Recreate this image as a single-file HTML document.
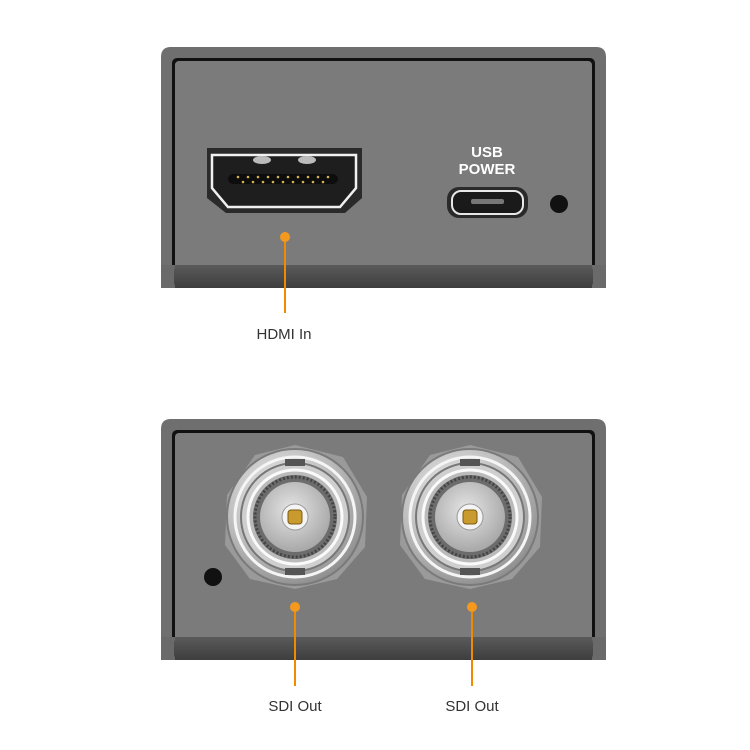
<!DOCTYPE html>
<html><head><style>
html,body{margin:0;padding:0;background:#fff;}
svg{display:block;}
text{font-family:"Liberation Sans",sans-serif;}
</style></head><body>
<svg width="750" height="750" viewBox="0 0 750 750" xmlns="http://www.w3.org/2000/svg">
<defs>
<linearGradient id="lip" x1="0" y1="0" x2="0" y2="1"><stop offset="0" stop-color="#5a5a5a"/><stop offset="1" stop-color="#3e3e3e"/></linearGradient>
<radialGradient id="metal" cx="0.4" cy="0.35" r="0.7"><stop offset="0" stop-color="#f2f2f2"/><stop offset="0.6" stop-color="#bdbdbd"/><stop offset="1" stop-color="#8a8a8a"/></radialGradient>
<radialGradient id="inner" cx="0.45" cy="0.4" r="0.6"><stop offset="0" stop-color="#e6e6e6"/><stop offset="1" stop-color="#a8a8a8"/></radialGradient>
<g id="box">
  <path d="M161,288 V10 Q161,0 171,0 H596 Q606,0 606,10 V241 H161 Z" fill="#6f6f6f" transform="translate(0,0)"/>
  <rect x="172" y="11" width="423" height="220" rx="5" fill="#111"/>
  <rect x="175" y="14" width="417" height="217" rx="4" fill="#7b7b7b"/>
  <rect x="163" y="218" width="441" height="23" fill="url(#lip)"/>
  <rect x="161" y="218" width="14" height="23" fill="#6a6a6a"/>
  <rect x="592" y="218" width="14" height="23" fill="#6a6a6a"/>
  <rect x="174" y="218" width="419" height="23" rx="6" fill="url(#lip)"/>
</g>
<g id="bnc">
  <polygon points="-68,-22 -40,-62 0,-72 48,-60 72,-20 70,30 42,62 0,72 -45,62 -70,28" fill="#9a9a9a"/>
  <circle r="68" fill="url(#metal)" stroke="#7a7a7a" stroke-width="2"/>
  <circle r="60" fill="none" stroke="#f5f5f5" stroke-width="3"/>
  <circle r="54" fill="#cfcfcf" stroke="#777" stroke-width="2"/>
  <circle r="47" fill="#bbb" stroke="#fafafa" stroke-width="3"/>
  <circle r="42" fill="#6c6c6c"/>
  <circle r="40" fill="none" stroke="#444" stroke-width="3" stroke-dasharray="2 2"/>
  <circle r="35" fill="url(#inner)"/>
  <circle r="13" fill="#f4f4f4" stroke="#999" stroke-width="1"/>
  <rect x="-7" y="-7" width="14" height="14" rx="3" fill="#c99a2e" stroke="#7a5a10"/>
  <rect x="-10" y="-58" width="20" height="7" fill="#555"/>
  <rect x="-10" y="51" width="20" height="7" fill="#555"/>
</g>
</defs>

<!-- top device -->
<use href="#box" x="0" y="47"/>
<!-- HDMI -->
<path d="M207,148 H362 V198 L345,213 H226 L207,198 Z" fill="#2a2a2a"/>
<path d="M212,155 H356 V188 L340,207 H228 L212,188 Z" fill="#1e1e1e" stroke="#f0f0f0" stroke-width="2.5"/>
<rect x="228" y="174" width="110" height="10" rx="5" fill="#0d0d0d"/>
<g fill="#d4b050">
<circle cx="238" cy="177" r="1.3"/><circle cx="248" cy="177" r="1.3"/><circle cx="258" cy="177" r="1.3"/><circle cx="268" cy="177" r="1.3"/><circle cx="278" cy="177" r="1.3"/><circle cx="288" cy="177" r="1.3"/><circle cx="298" cy="177" r="1.3"/><circle cx="308" cy="177" r="1.3"/><circle cx="318" cy="177" r="1.3"/><circle cx="328" cy="177" r="1.3"/>
<circle cx="243" cy="182" r="1.3"/><circle cx="253" cy="182" r="1.3"/><circle cx="263" cy="182" r="1.3"/><circle cx="273" cy="182" r="1.3"/><circle cx="283" cy="182" r="1.3"/><circle cx="293" cy="182" r="1.3"/><circle cx="303" cy="182" r="1.3"/><circle cx="313" cy="182" r="1.3"/><circle cx="323" cy="182" r="1.3"/>
</g>
<ellipse cx="262" cy="160" rx="9" ry="4" fill="#bbb"/><ellipse cx="307" cy="160" rx="9" ry="4" fill="#bbb"/>
<!-- USB -->
<text x="487" y="157" text-anchor="middle" font-size="15" font-weight="bold" fill="#fff">USB</text>
<text x="487" y="174" text-anchor="middle" font-size="15" font-weight="bold" fill="#fff">POWER</text>
<rect x="447" y="187" width="81" height="31" rx="12" fill="#2a2a2a"/>
<rect x="452" y="191" width="71" height="23" rx="9" fill="#1a1a1a" stroke="#e8e8e8" stroke-width="2"/>
<rect x="471" y="199" width="33" height="5" rx="2" fill="#777"/>
<circle cx="559" cy="204" r="9" fill="#111"/>
<!-- HDMI label -->
<line x1="285" y1="237" x2="285" y2="313" stroke="#f08a00" stroke-width="2"/>
<circle cx="285" cy="237" r="5" fill="#f39a1e"/>
<text x="284" y="339" text-anchor="middle" font-size="15" fill="#333">HDMI In</text>

<!-- bottom device -->
<use href="#box" x="0" y="419"/>
<use href="#bnc" x="295" y="517"/>
<use href="#bnc" x="470" y="517"/>
<circle cx="213" cy="577" r="9" fill="#111"/>
<line x1="295" y1="607" x2="295" y2="686" stroke="#f08a00" stroke-width="2"/>
<circle cx="295" cy="607" r="5" fill="#f39a1e"/>
<line x1="472" y1="607" x2="472" y2="686" stroke="#f08a00" stroke-width="2"/>
<circle cx="472" cy="607" r="5" fill="#f39a1e"/>
<text x="295" y="711" text-anchor="middle" font-size="15" fill="#333">SDI Out</text>
<text x="472" y="711" text-anchor="middle" font-size="15" fill="#333">SDI Out</text>
</svg>
</body></html>
